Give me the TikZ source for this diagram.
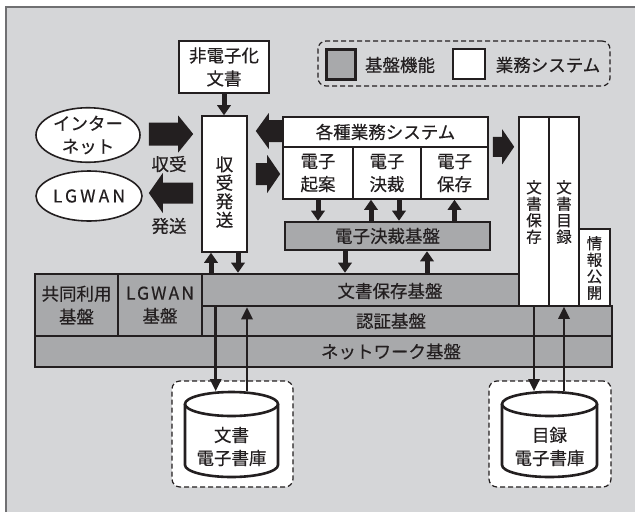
\documentclass[tikz,border=0pt]{standalone}
\usepackage{fontspec}
\setmainfont{Noto Sans CJK JP}[FakeBold=0.4]
\usetikzlibrary{arrows.meta,shapes.geometric}
\definecolor{bgc}{HTML}{D5D6D8}
\definecolor{basec}{HTML}{A8A9AB}
\definecolor{ink}{HTML}{231F20}
\definecolor{framec}{HTML}{707072}
\tikzset{
  txt/.style={font=\fontsize{17.5}{23}\selectfont, text=ink, align=center, inner sep=0pt},
  wbox/.style={draw=ink, fill=white, line width=1.6pt, inner sep=0pt, txt},
  gbox/.style={draw=ink, fill=basec, line width=2.6pt, inner sep=0pt, txt},
  vtxt/.style={font=\fontsize{15.5}{16.5}\selectfont, text=ink, align=center, inner sep=0pt},
  vtxtb/.style={font=\fontsize{17.5}{18.5}\selectfont, text=ink, align=center, inner sep=0pt},
  ell/.style={ellipse, draw=ink, fill=white, line width=1.6pt, inner sep=0pt, txt},
  blockR/.style n args={3}{to path={([yshift=-#1]\tikztostart) -- ([xshift=-#3,yshift=-#1]\tikztotarget) -- ([xshift=-#3,yshift=-#2]\tikztotarget) -- (\tikztotarget) -- ([xshift=-#3,yshift=#2]\tikztotarget) -- ([xshift=-#3,yshift=#1]\tikztotarget) -- ([yshift=#1]\tikztostart) -- cycle}},
  blockL/.style n args={3}{to path={([yshift=-#1]\tikztostart) -- ([xshift=#3,yshift=-#1]\tikztotarget) -- ([xshift=#3,yshift=-#2]\tikztotarget) -- (\tikztotarget) -- ([xshift=#3,yshift=#2]\tikztotarget) -- ([xshift=#3,yshift=#1]\tikztotarget) -- ([yshift=#1]\tikztostart) -- cycle}},
  midarrow/.style={line width=5pt, draw=ink, -{Triangle[width=14pt,length=10pt,line width=0pt]}},
  thinarrow/.style={line width=2.7pt, draw=ink, -{Triangle[width=12pt,length=12pt,line width=0pt]}},
  dbbox/.style={draw=ink, dash pattern=on 5pt off 3pt, fill=white, rounded corners=8pt, line width=1.2pt},
  legbox/.style={draw=ink, dash pattern=on 5pt off 3pt, rounded corners=8pt, line width=1.2pt},
  cyl/.style={draw=ink, fill=white, line width=2.6pt},
}
\begin{document}
\begin{tikzpicture}[x=1pt,y=-1pt]
\useasboundingbox (0,0) rectangle (635,512);
\fill[bgc] (6,7) rectangle (635,512);
\draw[framec, line width=1.2pt] (6,512) -- (6,7) -- (635,7);

% legend
\node[legbox, minimum width=292pt, minimum height=45pt] (legend) at (464,63.5) {};
\node[gbox, line width=3pt, minimum width=29pt, minimum height=30pt] (leggray) at (340.5,64) {};
\node[txt] (legt1) at (400,65) {基盤機能};
\node[wbox, minimum width=32pt, minimum height=30pt] (legwhite) at (469,64) {};
\node[txt] (legt2) at (548,65) {業務システム};

% top nodes
\node[wbox, minimum width=90pt, minimum height=52pt] (nonel) at (224,67) {非電子化\\文書};
\node[wbox, minimum width=45pt, minimum height=136pt] (jusou) at (224.5,184) {};
\node[vtxtb] (jusout) at (224.5,192) {収\\受\\発\\送};
\node[ell, minimum width=104pt, minimum height=44pt] (inet) at (88,135) {インター\\ネット};
\node[ell, minimum width=106pt, minimum height=50pt] (lgwan) at (89,196) {\addfontfeature{LetterSpace=18}LGWAN};

\node[wbox, minimum width=205pt, minimum height=30pt] (kaku) at (385.5,132) {各種業務システム};
\node[wbox, minimum width=70pt, minimum height=52pt] (d1) at (318,173) {電子\\起案};
\node[wbox, minimum width=68pt, minimum height=52pt] (d2) at (387,173) {電子\\決裁};
\node[wbox, minimum width=67pt, minimum height=52pt] (d3) at (454.5,173) {電子\\保存};
\node[gbox, minimum width=205pt, minimum height=28pt] (kessai) at (387.5,236) {電子決裁基盤};

% right columns
\node[wbox, minimum width=30pt, minimum height=189pt] (colA) at (534,211.5) {};
\node[vtxt] (colAt) at (534,212) {文\\書\\保\\存};
\node[wbox, minimum width=30pt, minimum height=189pt] (colB) at (564,211.5) {};
\node[vtxt] (colBt) at (564,212) {文\\書\\目\\録};
\node[wbox, minimum width=31pt, minimum height=77pt] (colC) at (594.5,267.5) {};
\node[vtxt] (colCt) at (594.5,268) {情\\報\\公\\開};

% base block
\node[gbox, minimum width=83pt, minimum height=62pt] (kyodo) at (76.5,305) {共同利用\\基盤};
\node[gbox, minimum width=84pt, minimum height=62pt] (lgb) at (160,305) {\addfontfeature{LetterSpace=12}LGWAN\\基盤};
\node[gbox, minimum width=317pt, minimum height=32pt] (hozon) at (360.5,290) {};
\node[txt] (hozont) at (390,291) {文書保存基盤};
\node[gbox, minimum width=410pt, minimum height=30pt] (ninsho) at (407,321) {};
\node[txt] (ninshot) at (391,321) {認証基盤};
\node[gbox, minimum width=577pt, minimum height=31pt] (net) at (323.5,351.5) {};
\node[txt] (nett) at (391,351.5) {ネットワーク基盤};

% databases
\node[dbbox, minimum width=121pt, minimum height=106pt] (db1) at (232.5,434) {};
\draw[cyl] (185,404) -- (185,465) arc[start angle=180, end angle=0, x radius=46.5, y radius=12] -- (278,404);
\draw[cyl] (231.5,404) ellipse [x radius=46.5, y radius=12];
\coordinate (c1) at (231.5,391);
\node[txt] (db1t) at (231.5,446.5) {文書\\電子書庫};

\node[dbbox, minimum width=122pt, minimum height=106pt] (db2) at (550,434) {};
\draw[cyl] (502,404) -- (502,465) arc[start angle=180, end angle=0, x radius=47.5, y radius=12] -- (597,404);
\draw[cyl] (549.5,404) ellipse [x radius=47.5, y radius=12];
\coordinate (c2) at (549.5,391);
\node[txt] (db2t) at (549.5,446.5) {目録\\電子書庫};

% big block arrows
\coordinate (a1s) at ([xshift=8pt,yshift=1pt]inet.east);
\coordinate (a1t) at ([xshift=-8pt]jusou.west |- a1s);
\fill[ink] (a1s) to[blockR={11.5pt}{18.5pt}{15pt}] (a1t);
\node[txt] (lab1) at (169,164) {収受};
\coordinate (a2s) at ([xshift=-8pt,yshift=3pt]jusou.west |- lgwan.east);
\coordinate (a2t) at ([xshift=6pt]lgwan.east |- a2s);
\fill[ink] (a2s) to[blockL={10.5pt}{20pt}{14pt}] (a2t);
\node[txt] (lab2) at (169,226) {発送};
\coordinate (a3s) at ([yshift=1pt]kaku.west);
\coordinate (a3t) at ([xshift=8pt]jusou.east |- a3s);
\fill[ink] (a3s) to[blockL={11pt}{18pt}{13pt}] (a3t);
\coordinate (a4s) at ([xshift=8pt,yshift=-1pt]jusou.east |- d1.west);
\coordinate (a4t) at ([xshift=-2pt]d1.west |- a4s);
\fill[ink] (a4s) to[blockR={11pt}{19pt}{13pt}] (a4t);
\coordinate (a5s) at ([xshift=4pt,yshift=1pt]kaku.south east);
\coordinate (a5t) at ([xshift=-4pt]colA.west |- a5s);
\fill[ink] (a5s) to[blockR={10pt}{17.5pt}{12pt}] (a5t);

% mid arrows
\draw[midarrow] (nonel.south) -- (nonel.south |- jusou.north);
\draw[midarrow] (d1.south) -- (d1.south |- kessai.north);
\draw[midarrow] ([xshift=-16pt]d2.south |- kessai.north) -- ([xshift=-16pt]d2.south);
\draw[midarrow] ([xshift=12pt]d2.south) -- ([xshift=12pt]d2.south |- kessai.north);
\draw[midarrow] (d3.south |- kessai.north) -- (d3.south);
\draw[midarrow] ([xshift=-42.5pt]kessai.south) -- ([xshift=-42.5pt]kessai.south |- hozon.north);
\draw[midarrow] ([xshift=39.5pt]kessai.south |- hozon.north) -- ([xshift=39.5pt]kessai.south);
\draw[midarrow] ([xshift=-13.5pt]jusou.south |- hozon.north) -- ([xshift=-13.5pt]jusou.south);
\draw[midarrow] ([xshift=13.5pt]jusou.south) -- ([xshift=13.5pt]jusou.south |- hozon.north);

% thin arrows
\draw[thinarrow] ([xshift=15pt]hozon.south west) -- ([xshift=15pt]hozon.south west |- c1);
\draw[thinarrow] ([xshift=15.5pt]c1) -- ([xshift=15.5pt]c1 |- hozon.south);
\draw[thinarrow] (colA.south) -- (colA.south |- c2);
\draw[thinarrow] (colB.south |- c2) -- (colB.south);
\end{tikzpicture}
\end{document}
